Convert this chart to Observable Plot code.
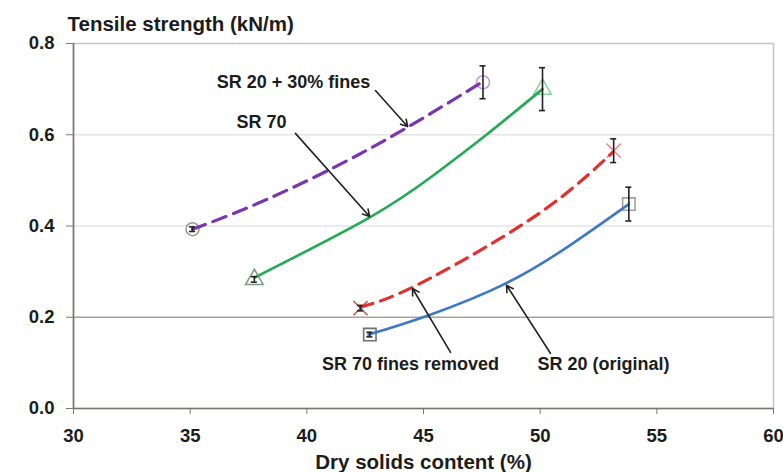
<!DOCTYPE html>
<html>
<head>
<meta charset="utf-8">
<script src="https://cdn.jsdelivr.net/npm/d3@7"></script>
<script src="https://cdn.jsdelivr.net/npm/@observablehq/plot@0.6"></script>
<style>
  html, body { margin: 0; padding: 0; background: #fff; }
  #chart svg { font-family: "Liberation Sans", Arial, sans-serif; }
</style>
</head>
<body>
<div id="chart"></div>
<script>
// Tensile strength vs dry solids content for four pulp furnishes
const seriesNames = ["SR 20 + 30% fines", "SR 70", "SR 70 fines removed", "SR 20 (original)"];

// Trend-line points (dry solids %, tensile kN/m)
const fines30X = [35.1, 37.6, 41.0, 44.3, 47.5];
const fines30Y = [0.393, 0.443, 0.524, 0.616, 0.715];
const sr70X = [37.76, 42.7, 45.4, 47.6, 50.1];
const sr70Y = [0.287, 0.419, 0.510, 0.596, 0.70];
const sr70RemovedX = [42.3, 44.5, 48.2, 51.0, 53.1];
const sr70RemovedY = [0.222, 0.265, 0.370, 0.467, 0.561];
const sr20X = [42.64, 45.2, 48.6, 51.4, 53.8];
const sr20Y = [0.162, 0.204, 0.276, 0.362, 0.448];

// Measured points with error (±)
const measName = ["SR 20 + 30% fines", "SR 20 + 30% fines", "SR 70", "SR 70",
                  "SR 70 fines removed", "SR 70 fines removed", "SR 20 (original)", "SR 20 (original)"];
const measX = [35.1, 47.55, 37.75, 50.1, 42.3, 53.15, 42.7, 53.8];
const measY = [0.393, 0.715, 0.283, 0.70, 0.22, 0.565, 0.162, 0.448];
const measErr = [0.005, 0.036, 0.006, 0.047, 0.006, 0.026, 0.005, 0.037];
const measStart = [true, false, true, false, true, false, true, false];

// Axis ticks
const xTicks = [30, 35, 40, 45, 50, 55, 60];
const yTicks = [0.0, 0.2, 0.4, 0.6, 0.8];
const gridMajor = [0.2];
const gridMinor = [0.4, 0.6];

// Callout labels and leader arrows
const labelText = ["SR 20 + 30% fines", "SR 70", "SR 70 fines removed", "SR 20 (original)"];
const labelX = [39.43, 38.06, 44.44, 52.71];
const labelY = [0.715, 0.627, 0.097, 0.097];
const arrowX1 = [42.94, 39.51, 46.16, 50.44];
const arrowY1 = [0.697, 0.603, 0.123, 0.121];
const arrowX2 = [44.32, 42.69, 44.53, 48.56];
const arrowY2 = [0.618, 0.421, 0.263, 0.270];

const style = {
  "SR 20 + 30% fines": {color: "#7a35b0", dash: "14,8", width: 3.2, symbol: "circle", mark: "#b7a2d4", markStart: "#9c94aa"},
  "SR 70": {color: "#22aa55", dash: null, width: 2.6, symbol: "triangle", mark: "#8fcfa2", markStart: "#7f9a88"},
  "SR 70 fines removed": {color: "#e2302e", dash: "13,8", width: 3.2, symbol: "times", mark: "#f08a8a", markStart: "#b06060"},
  "SR 20 (original)": {color: "#3d78c6", dash: null, width: 2.6, symbol: "square", mark: "#a0a0a0", markStart: "#707070"}
};

const curveData = {
  "SR 20 + 30% fines": fines30X.map((x, i) => ({x, y: fines30Y[i]})),
  "SR 70": sr70X.map((x, i) => ({x, y: sr70Y[i]})),
  "SR 70 fines removed": sr70RemovedX.map((x, i) => ({x, y: sr70RemovedY[i]})),
  "SR 20 (original)": sr20X.map((x, i) => ({x, y: sr20Y[i]}))
};

const points = measX.map((x, i) => ({name: measName[i], x, y: measY[i], e: measErr[i], start: measStart[i]}));
const labels = labelText.map((t, i) => ({t, x: labelX[i], y: labelY[i]}));
const arrows = arrowX1.map((x1, i) => ({x1, y1: arrowY1[i], x2: arrowX2[i], y2: arrowY2[i]}));

const capHalf = 0.13; // half-width of error-bar caps in x units
const ink = "#1c1c1c";

const marks = [
  Plot.frame({stroke: "#c4c4c4", strokeWidth: 1.5}),
  Plot.ruleY(gridMinor, {stroke: "#e4e4e4", strokeWidth: 1.5}),
  Plot.ruleY(gridMajor, {stroke: "#a9a39e", strokeWidth: 1.5}),
  Plot.ruleX([30], {stroke: "#7d7773", strokeWidth: 1.6}),
  Plot.ruleY([0], {stroke: "#7d7773", strokeWidth: 1.6}),
  Plot.axisX({ticks: xTicks, tickSize: 6, tickPadding: 14, stroke: "#7d7773", fontSize: 18.5, fontWeight: "bold", fill: ink, label: null, tickFormat: d3.format("d")}),
  Plot.axisY({ticks: yTicks, tickSize: 7, tickPadding: 12, stroke: "#7d7773", fontSize: 18.5, fontWeight: "bold", fill: ink, label: null, tickFormat: d3.format(".1f")}),
];

for (const name of seriesNames) {
  const s = style[name];
  const pts = points.filter(p => p.name === name);
  // hollow markers
  marks.push(Plot.dot(pts, {
    x: "x", y: "y", symbol: () => s.symbol, r: s.symbol === "square" ? 7 : 6.5,
    stroke: d => d.start ? s.markStart : s.mark, strokeWidth: 1.6, fill: "none"
  }));
  // trend line
  marks.push(Plot.line(curveData[name], {
    x: "x", y: "y", curve: "natural", stroke: s.color, strokeWidth: s.width,
    strokeDasharray: s.dash || undefined
  }));
  // error bars
  marks.push(Plot.ruleX(pts, {x: "x", y1: d => d.y - d.e, y2: d => d.y + d.e, stroke: "#222", strokeWidth: 1.6}));
  marks.push(Plot.ruleY(pts, {y: d => d.y - d.e, x1: d => d.x - capHalf, x2: d => d.x + capHalf, stroke: "#222", strokeWidth: 1.6}));
  marks.push(Plot.ruleY(pts, {y: d => d.y + d.e, x1: d => d.x - capHalf, x2: d => d.x + capHalf, stroke: "#222", strokeWidth: 1.6}));
}

marks.push(
  Plot.arrow(arrows, {x1: "x1", y1: "y1", x2: "x2", y2: "y2", bend: 0, headLength: 7, stroke: "#222", strokeWidth: 1.6}),
  Plot.text(labels, {x: "x", y: "y", text: "t", fontSize: 18, fontWeight: "bold", fill: ink}),
  Plot.text(["Tensile strength (kN/m)"], {text: d => d, frameAnchor: "top-left", dx: -6, dy: -19, textAnchor: "start", lineAnchor: "middle", fontSize: 20.5, fontWeight: "bold", fill: ink}),
  Plot.text(["Dry solids content (%)"], {text: d => d, frameAnchor: "bottom", dy: 54, lineAnchor: "middle", fontSize: 20.5, fontWeight: "bold", fill: ink})
);

const chart = Plot.plot({
  width: 783,
  height: 472,
  marginTop: 43,
  marginBottom: 64,
  marginLeft: 73,
  marginRight: 10,
  x: {domain: [30, 60]},
  y: {domain: [0, 0.8]},
  style: {background: "#fff", overflow: "visible"},
  marks
});
document.getElementById("chart").appendChild(chart);
</script>
</body>
</html>
